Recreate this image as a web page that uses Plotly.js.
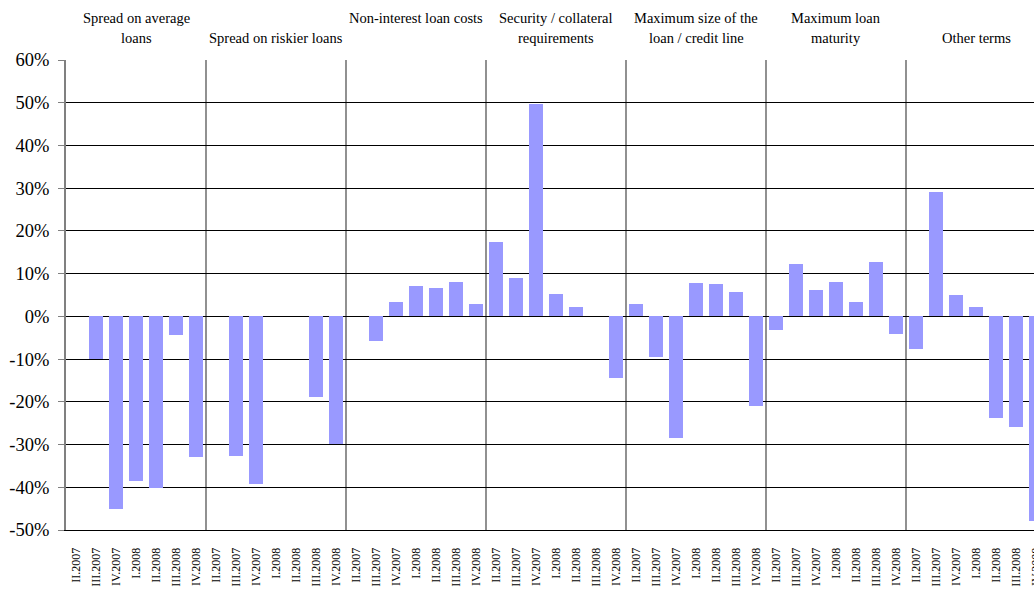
<!DOCTYPE html>
<html>
<head>
<meta charset="utf-8">
<script src="https://cdn.plot.ly/plotly-3.0.1.min.js"></script>
<style>
html, body { margin: 0; padding: 0; overflow: hidden; background: #fff; }
#chart { width: 1046px; height: 595px; }
</style>
</head>
<body>
<div id="chart"></div>
<script>
// Periods within each group
const periods = ["II.2007", "III.2007", "IV.2007", "I.2008", "II.2008", "III.2008", "IV.2008"];

// Group titles (two lines each; empty string = no text on that line)
const groupTitles = [
  ["Spread on average", "loans"],
  ["", "Spread on riskier loans"],
  ["Non-interest loan costs", ""],
  ["Security / collateral", "requirements"],
  ["Maximum size of the", "loan / credit line"],
  ["Maximum loan", "maturity"],
  ["", "Other terms"]
];

// Values in % (null = no bar)
const spreadAverage = [null, -10.0, -45.0, -38.5, -40.2, -4.3, -33.0];
const spreadRiskier = [null, -32.7, -39.2, null, null, -18.8, -29.9];
const nonInterestCosts = [null, -5.8, 3.3, 7.0, 6.6, 8.1, 2.8];
const securityCollateral = [17.3, 8.9, 49.6, 5.2, 2.3, null, -14.4];
const maxLoanSize = [2.8, -9.6, -28.5, 7.9, 7.5, 5.8, -21.0];
const maxMaturity = [-3.3, 12.2, 6.1, 8.0, 3.3, 12.8, -4.2];
const otherTerms = [-7.7, 29.0, 5.1, 2.3, -23.8, -25.9, -47.9];

const yTicks = [60, 50, 40, 30, 20, 10, 0, -10, -20, -30, -40, -50];

const series = [spreadAverage, spreadRiskier, nonInterestCosts, securityCollateral, maxLoanSize, maxMaturity, otherTerms];
const nPer = periods.length;

const xs = [], ys = [], tickvals = [], ticktext = [];
series.forEach((arr, g) => {
  arr.forEach((v, i) => {
    const idx = g * nPer + i;
    xs.push(idx);
    ys.push(v);
    tickvals.push(idx);
    ticktext.push(periods[i]);
  });
});

const serif = "Liberation Serif, Times New Roman, serif";

const shapes = [];
for (let g = 1; g <= series.length; g++) {
  shapes.push({
    type: "line", xref: "x", yref: "paper",
    x0: g * nPer - 0.5, x1: g * nPer - 0.5, y0: 0, y1: 1,
    line: { color: "#555555", width: 1.3 },
    layer: "below"
  });
}

const annotations = [];
groupTitles.forEach((lines, g) => {
  lines.forEach((txt, li) => {
    if (!txt) return;
    annotations.push({
      xref: "x", yref: "paper",
      x: g * nPer + (nPer - 1) / 2, y: 1,
      xanchor: "center", yanchor: "middle",
      yshift: li === 0 ? 42 : 22,
      text: txt, showarrow: false,
      font: { family: serif, size: 14.5, color: "#000" }
    });
  });
});

const trace = {
  type: "bar",
  x: xs, y: ys,
  width: 0.66,
  marker: { color: "#9999FF", line: { width: 0 } },
  hoverinfo: "skip"
};

const layout = {
  width: 1046, height: 595,
  margin: { l: 66, r: 0, t: 60, b: 65, pad: 0 },
  paper_bgcolor: "#fff", plot_bgcolor: "#fff",
  showlegend: false,
  bargap: 0,
  font: { family: serif, color: "#000" },
  xaxis: {
    range: [-0.5, series.length * nPer - 0.5],
    tickmode: "array", tickvals: tickvals, ticktext: ticktext,
    tickangle: -90,
    tickfont: { family: serif, size: 12, color: "#000" },
    ticks: "outside", ticklen: 12, tickcolor: "rgba(0,0,0,0)",
    showgrid: false, zeroline: false,
    showline: true, linecolor: "#000", linewidth: 1,
    fixedrange: true
  },
  yaxis: {
    range: [-50, 60],
    tickmode: "array", tickvals: yTicks,
    ticktext: yTicks.map(v => v + "%"),
    tickfont: { family: serif, size: 18.5, color: "#000" },
    ticks: "outside", ticklen: 6, tickcolor: "#808080", tickwidth: 1,
    ticklabelstandoff: 5,
    showgrid: true, gridcolor: "#000", gridwidth: 1,
    zeroline: true, zerolinecolor: "#000", zerolinewidth: 1,
    showline: true, linecolor: "#808080", linewidth: 2,
    fixedrange: true
  },
  shapes: shapes,
  annotations: annotations
};

Plotly.newPlot("chart", [trace], layout, { displayModeBar: false, staticPlot: true });
</script>
</body>
</html>
